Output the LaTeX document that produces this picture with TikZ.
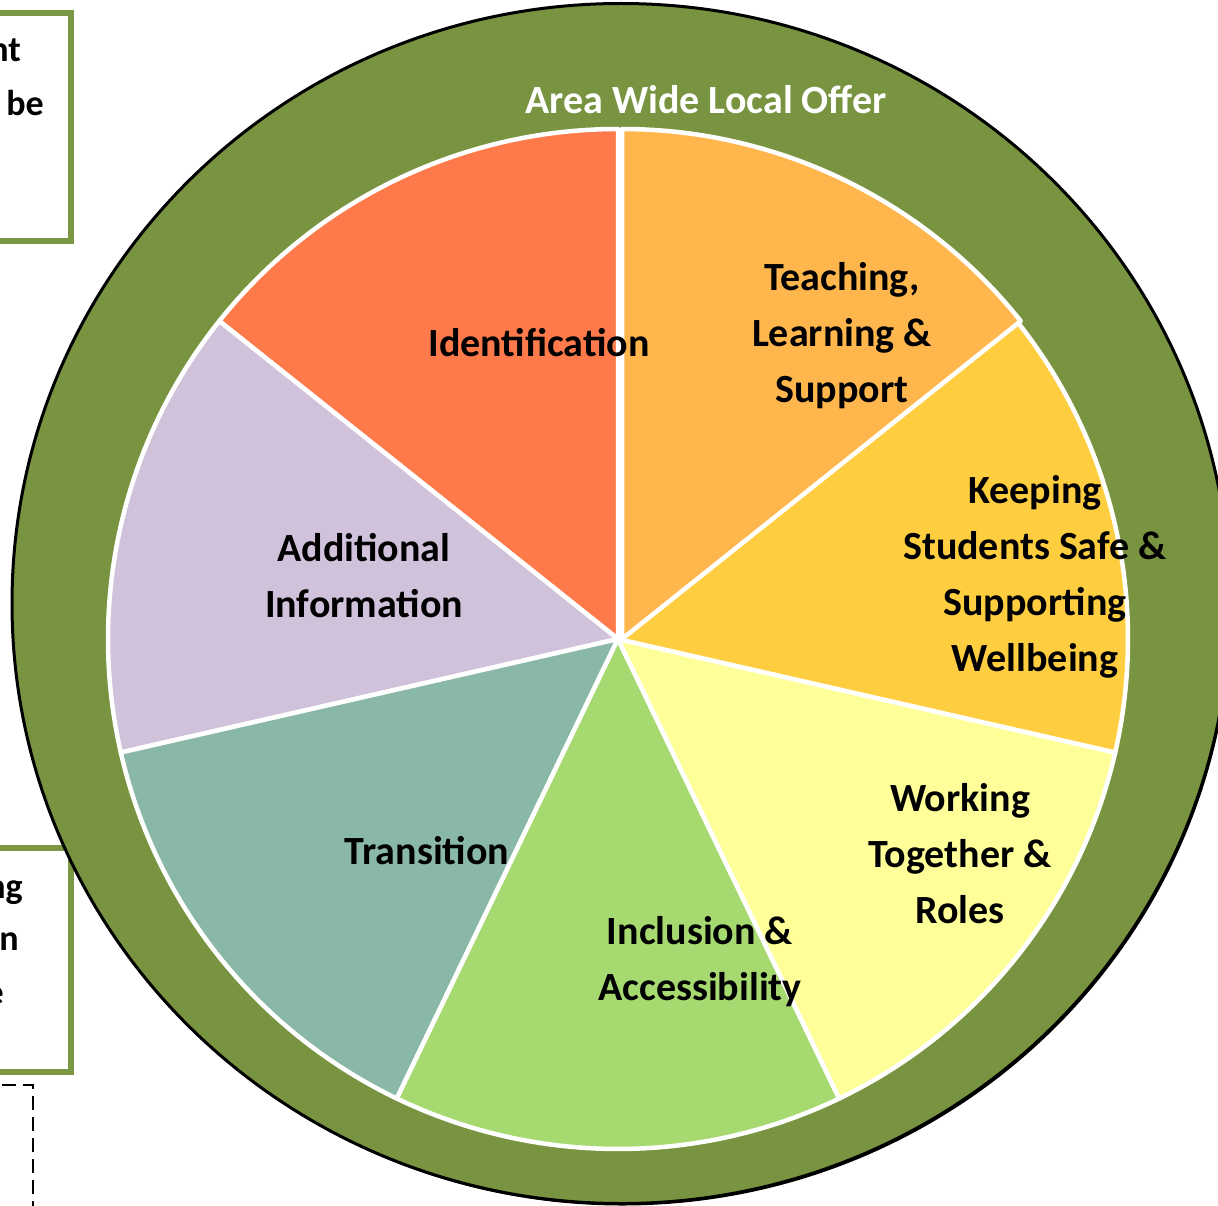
\documentclass[tikz,border=0pt]{standalone}
\usepackage{fontspec}
\setmainfont{Carlito}
\definecolor{ringgreen}{RGB}{120,148,64}
\definecolor{boxgreen}{RGB}{122,152,68}
\definecolor{cIdent}{RGB}{255,122,75}
\definecolor{cTeach}{RGB}{255,183,77}
\definecolor{cKeep}{RGB}{255,206,64}
\definecolor{cWork}{RGB}{255,255,153}
\definecolor{cIncl}{RGB}{167,217,113}
\definecolor{cTrans}{RGB}{138,184,166}
\definecolor{cAdd}{RGB}{207,194,218}
\begin{document}
\begin{tikzpicture}[x=1pt,y=1pt,
  lbl/.style={font=\bfseries\fontsize{40}{56}\selectfont, align=center, text=black, inner sep=0pt},
  sidelbl/.style={font=\bfseries\fontsize{36}{54}\selectfont, text=black, inner sep=0pt, anchor=base east},
  slice/.style={draw=white, line width=4.5pt, line join=round},
  sidebox/.style={draw=boxgreen, line width=6pt, fill=white}]
\useasboundingbox (0,0) rectangle (1218,-1206);
% side boxes (cut off at the left edge)
\draw[sidebox] (-20,-13) rectangle (71,-241);
\draw[sidebox] (-20,-848) rectangle (71,-1072);
\node[sidelbl] (t1) at (21,-62) {nt};
\node[sidelbl] (t2) at (44,-116) {be};
\node[sidelbl] (b1) at (23,-898) {ng};
\node[sidelbl] (b2) at (19,-950) {n};
\node[sidelbl] (b3) at (4,-1004) {e};
% dashed frame corner
\coordinate (d1) at (33,-1215);
\coordinate (d2) at (33,-1085);
\coordinate (d3) at (-10,-1085);
\draw[line width=2pt, dash pattern=on 14pt off 7pt] (d1) -- (d2) -- (d3);
% outer ring
\fill[black] (622.5,-605.5) ellipse [x radius=609, y radius=600];
\filldraw[fill=ringgreen, draw=black, line width=3pt] (621,-603.5) ellipse [x radius=609, y radius=600];
\node[font=\bfseries\fontsize{40}{56}\selectfont, text=white, inner sep=0pt] (area) at (706,-100) {Area Wide Local Offer};
% pie
\coordinate (C) at (618,-639);
\filldraw[slice, fill=cIdent] (C) -- ++(90:510) arc[start angle=90, end angle=141.43, radius=510] -- cycle;
\filldraw[slice, fill=cAdd] (C) -- ++(141.43:510) arc[start angle=141.43, end angle=192.86, radius=510] -- cycle;
\filldraw[slice, fill=cTrans] (C) -- ++(192.86:510) arc[start angle=192.86, end angle=244.29, radius=510] -- cycle;
\filldraw[slice, fill=cIncl] (C) -- ++(244.29:510) arc[start angle=244.29, end angle=295.71, radius=510] -- cycle;
\filldraw[slice, fill=cWork] (C) -- ++(295.71:510) arc[start angle=295.71, end angle=347.14, radius=510] -- cycle;
\filldraw[slice, fill=cKeep] (C) -- ++(-12.86:510) arc[start angle=-12.86, end angle=38.57, radius=510] -- cycle;
\filldraw[slice, fill=cTeach] ([xshift=4pt]C) -- ++(38.57:510) arc[start angle=38.57, end angle=90, radius=510] -- cycle;
% labels
\node[lbl] (ident) at (539,-343) {Identification};
\node[lbl] (teach) at (842,-336) {Teaching,\\Learning \&\\Support};
\node[lbl] (keep) at (1035,-577) {Keeping\\Students Safe \&\\Supporting\\Wellbeing};
\node[lbl] (work) at (960,-854) {Working\\Together \&\\Roles};
\node[lbl] (incl) at (700,-962) {Inclusion \&\\Accessibility};
\node[lbl] (trans) at (427,-851) {Transition};
\node[lbl] (add) at (364,-576) {Additional\\Information};
\end{tikzpicture}
\end{document}
